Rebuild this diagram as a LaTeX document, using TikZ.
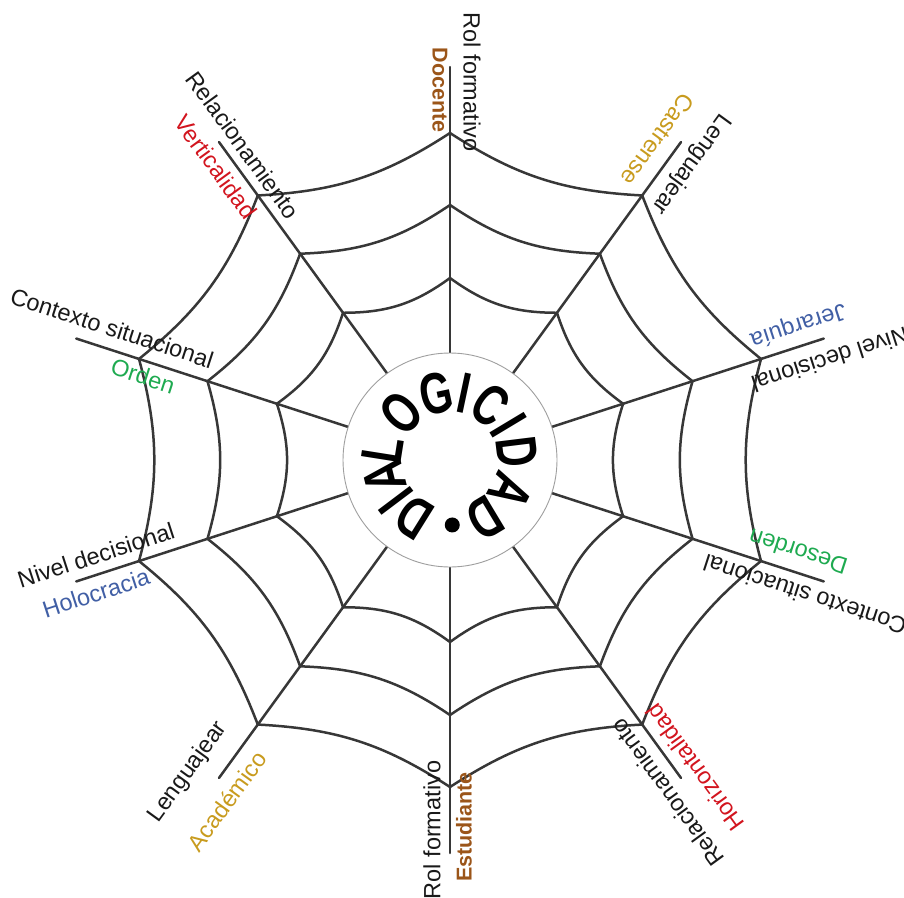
\documentclass[tikz,border=0pt]{standalone}
\usepackage{fontspec}
\setmainfont{Liberation Sans}
\begin{document}
\begin{tikzpicture}[x=1pt,y=1pt]
\useasboundingbox (0,0) rectangle (904,-897);
\definecolor{webc}{RGB}{55,55,55}
\definecolor{cred}{RGB}{210,20,30}
\definecolor{cgold}{RGB}{200,155,30}
\definecolor{cblue}{RGB}{65,95,165}
\definecolor{cgreen}{RGB}{30,170,80}
\definecolor{cbrown}{RGB}{155,85,25}
\definecolor{ctext}{RGB}{25,25,25}
\tikzset{
 webline/.style={draw=webc, line width=2.5pt, line cap=round, line join=round},
 lbl/.style={inner sep=0pt, font=\fontsize{23.5}{28}\selectfont, text=ctext},
 clbl/.style={inner sep=0pt, font=\fontsize{23.5}{28}\selectfont},
 blbl/.style={inner sep=0pt, font=\bfseries\fontsize{21.5}{26}\selectfont, text=cbrown},
 letter/.style={inner sep=0pt, font=\bfseries\fontsize{58}{62}\selectfont, text=black},
 hubstyle/.style={circle, draw=gray!75, line width=0.9pt, fill=white, minimum size=214pt, inner sep=0pt}
}
\coordinate (C) at (450,-460);
\foreach \k in {0,...,9} {
  \pgfmathsetmacro{\a}{90+36*\k}
  \coordinate (s\k) at ([shift={(450,-460)}]\a:393);
  \foreach \r/\j in {182/1,255/2,327/3} {
    \coordinate (n\k-\j) at ([shift={(450,-460)}]\a:\r);
  }
}
% spokes
\foreach \k in {0,...,9} {
  \draw[webline] (C) -- (s\k);
}
% rings
\foreach \k in {0,...,9} {
  \pgfmathtruncatemacro{\m}{mod(\k+1,10)}
  \foreach \j/\b in {1/18,2/16,3/15} {
    \draw[webline] (n\k-\j) to[bend left=\b] (n\m-\j);
  }
}
% hub
\node[hubstyle] (hub) at (C) {};
\foreach \t/\ang [count=\i] in {D/238, I/217, A/194, L/171, O/136, G/102, I/78, C/54, I/31, D/7, A/-27, D/-59} {
  \node[letter, rotate=\ang-90] (L\i) at ([shift={(450,-460)}]\ang:68) {\scalebox{0.72}[1]{\t}};
}
\node[circle, fill=black, minimum size=15pt, inner sep=0pt] (dot) at ([shift={(450,-460)}]-88:65) {};
% labels
\node[lbl, rotate=-90] (t0) at (472,-82) {Rol formativo};
\node[blbl, rotate=-90] (c0) at (440,-90) {Docente};
\node[lbl, rotate=-54] (t1) at (243,-145) {Relacionamiento};
\node[clbl, text=cred, rotate=-54] (c1) at (216,-167) {Verticalidad};
\node[lbl, rotate=-18] (t2) at (112,-328) {Contexto situacional};
\node[clbl, text=cgreen, rotate=-18] (c2) at (143,-376) {Orden};
\node[lbl, rotate=18] (t3) at (96,-555) {Nivel decisional};
\node[clbl, text=cblue, rotate=18] (c3) at (96,-593) {Holocracia};
\node[lbl, rotate=54] (t4) at (188,-772) {Lenguajear};
\node[clbl, text=cgold, rotate=54] (c4) at (227,-801) {Académico};
\node[lbl, rotate=90] (t5) at (432,-830) {Rol formativo};
\node[blbl, rotate=90] (c5) at (464,-827) {Estudiante};
\node[lbl, rotate=126] (t6) at (667,-793) {Relacionamiento};
\node[clbl, text=cred, rotate=126] (c6) at (695,-768) {Horizontalidad};
\node[lbl, rotate=162] (t7) at (805,-595) {Contexto situacional};
\node[clbl, text=cgreen, rotate=162] (c7) at (798,-552) {Desorden};
\node[lbl, rotate=198] (t8) at (830,-360) {Nivel decisional};
\node[clbl, text=cblue, rotate=198] (c8) at (798,-325) {Jerarquía};
\node[lbl, rotate=234] (t9) at (691,-164) {Lenguajear};
\node[clbl, text=cgold, rotate=234] (c9) at (658,-140) {Castrense};
\end{tikzpicture}
\end{document}
